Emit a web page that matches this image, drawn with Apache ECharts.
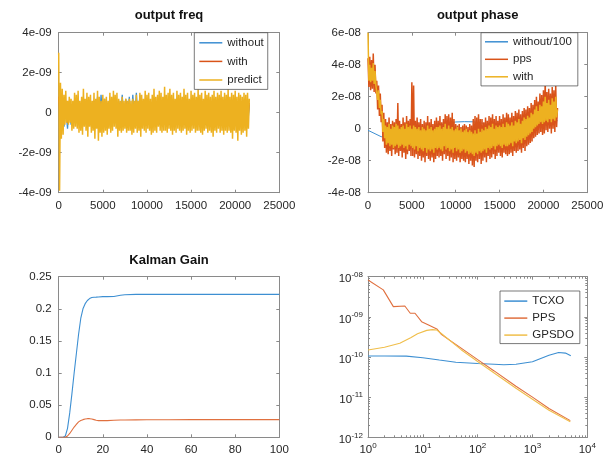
<!DOCTYPE html>
<html>
<head>
<meta charset="utf-8">
<script src="https://cdn.jsdelivr.net/npm/echarts@6/dist/echarts.min.js"></script>
<style>html,body{margin:0;padding:0;background:#fff}#c{width:613px;height:466px}</style>
</head>
<body>
<div id="c"></div>
<script>
// ---------- DATA ----------
// Panel 1: output freq (values in units of 1e-10), sample step in x
const FREQ_UNIT = 1e-10;
const FREQ_STEP_PREDICT = 100;
const FREQ_STEP_OTHER = 200;
const freqPredict = [
30,-39,15,-13,12,-11,9,-6,11,-5, 6,-6,8,-5,7,-9,6,-8,10,-7,
9,-8,11,-10,6,-9,8,-11,12,-7, 7,-9,10,-12,8,-7,9,-10,6,-9,
10,-13,7,-8,11,-14,8,-10,6,-12, 9,-10,7,-9,8,-11,6,-8,10,-10,
8,-9,11,-7,9,-8,10,-12,7,-9, 6,-10,8,-9,6,-8,7,-10,6,-9,
7,-9,6,-11,7,-10,6,-8,9,-10, 6,-9,10,-12,9,-8,7,-9,11,-10,
9,-8,10,-9,7,-11,9,-10,12,-9, 8,-10,9,-7,11,-9,10,-10,8,-9,
13,-9,9,-10,10,-8,12,-9,9,-11, 10,-9,7,-10,11,-8,9,-9,10,-10,
8,-9,12,-8,9,-11,10,-9,7,-10, 11,-9,9,-8,10,-10,8,-9,12,-9,
9,-10,10,-11,7,-9,11,-8,9,-10, 10,-9,8,-10,9,-12,11,-9,8,-10,
10,-8,9,-10,11,-9,8,-11,10,-9, 9,-10,12,-9,8,-10,10,-13,9,-9,
11,-10,8,-14,10,-9,9,-11,8,-10, 10,-9,9,-12,10,-8,7];
const freqWithout = [
5,-6,4,-7,3,-8,5,-6,4,-5, 5,-6,4,-5,6,-5,4,-6,5,-5,
6,-5,8,-6,9,-5,7,-6,5,-5, 6,-5,5,-6,6,-5,9,-6,7,-5,
8,-5,9,-6,10,-5,9,-6,6,-5, 5,-6,4,-5,6,-5,5,-6,4,-5,
6,-5,5,-6,4,-5,6,-6,5,-5, 4,-6,5,-5,6,-6,4,-5,5,-6,
6,-5,4,-6,5,-5,6,-6,4,-5, 5,-6,4,-5,6,-5,5,-7,4,-6,
5,-6,6,-5,4,-6,5,-7,4];
const freqWith = [
8,-8,6,-5,5,-5,6,-4,5,-5, 5,-5,4,-6,6,-5,5,-4,4,-6,
6,-5,5,-6,4,-5,6,-4,5,-6, 4,-5,6,-5,5,-6,4,-5,6,-4,
5,-6,4,-5,6,-5,5,-4,6,-6, 4,-5,5,-6,6,-4,5,-5,4,-6,
6,-5,4,-6,5,-4,6,-5,5,-6, 4,-6,5,-4,6,-5,4,-6,5,-5,
6,-4,5,-6,4,-5,6,-5,5,-6, 4,-5,6,-6,5,-4,6,-5,4,-6,
5,-5,6,-4,5,-6,4,-5,5];

// Panel 2: output phase (values in units of 1e-9)
const PHASE_UNIT = 1e-9;
const PHASE_STEP = 100;
const phasePps = [
44,26,45,24,43,25,47,23,40,22, 30,12,27,8,22,4,15,-8,10,-12,
6,-15,4,-16,7,-14,3,-17,5,-13, 4,-16,6,-15,16,-17,5,-14,3,-18,
7,-15,4,-19,8,-16,5,-14,6,-17, 29,-17,27,-18,5,-16,7,-19,4,-17,
6,-20,3,-18,5,-21,4,-17,8,-19, 4,-20,6,-18,3,-21,5,-19,7,-17,
5,-18,8,-17,4,-20,6,-16,9,-19, 8,-17,9,-20,7,-18,10,-21,6,-19,
3,-20,2,-18,3,-21,1,-19,2,-20, 3,-21,2,-19,1,-22,3,-20,2,-23,
6,-24,8,-20,7,-21,9,-19,6,-22, 6,-20,4,-18,7,-21,5,-17,8,-19,
7,-18,9,-16,6,-19,8,-17,5,-15, 8,-17,6,-18,9,-15,7,-16,10,-17,
9,-16,7,-15,10,-17,8,-14,11,-15, 10,-14,12,-13,9,-15,11,-12,13,-14,
12,-11,14,-10,13,-9,16,-8,15,-6, 18,-5,20,-4,17,-3,22,-2,21,-4,
24,-3,30,-1,23,-2,25,0,22,-3, 26,0,24,-2,27,1,13];
const phaseWith = [
60,30,40,29,38,30,41,28,36,27, 26,18,24,13,18,9,11,-2,6,-6,
2,-10,1,-9,3,-11,0,-10,2,-12, 1,-11,3,-10,2,-12,0,-11,1,-10,
2,-12,0,-11,3,-13,1,-10,2,-11, 0,-12,2,-13,1,-11,0,-14,1,-12,
-1,-13,1,-14,0,-12,-1,-15,2,-13, 0,-14,1,-13,-1,-15,0,-12,1,-13,
1,-12,2,-13,0,-14,1,-11,3,-13, 0,-12,2,-14,0,-13,1,-15,-1,-12,
0,-14,1,-13,-1,-15,0,-14,-2,-13, -1,-15,0,-14,-2,-16,-1,-15,-2,-16,
-3,-17,-1,-15,-3,-16,0,-14,-2,-15, 0,-14,-1,-13,1,-15,0,-12,2,-13,
1,-12,3,-11,0,-13,2,-11,1,-10, 2,-11,1,-12,3,-10,1,-11,4,-11,
3,-10,2,-9,4,-11,2,-8,5,-9, 4,-8,6,-7,3,-9,5,-6,7,-7,
6,-5,8,-4,7,-3,10,-2,9,0, 12,1,14,2,11,3,15,4,14,3,
17,4,20,5,16,4,18,6,15,4, 19,6,17,5,20,7,12];
const phaseWithoutX = [0,1500,3000,5000,7000,9000,10000,11000,12000,13000,15000,17000,19000,21600];
const phaseWithoutY = [-1,-5,-5,-3,0,3.5,4.2,4.4,4.3,3.5,0,-3,0,5];

// Panel 3: Kalman gain
const kalX = [0,1,2,3,4,5,6,7,8,9,10,11,12,13,14,15,16,17,18,20,22,25,28,30,35,40,50,60,70,80,90,100];
const kalBlue = [0,0,0,0.002,0.014,0.038,0.068,0.1,0.13,0.16,0.185,0.2,0.208,0.213,0.216,0.2175,0.218,0.2182,0.2185,0.219,0.219,0.2192,0.221,0.222,0.2225,0.2225,0.2225,0.2225,0.2225,0.2225,0.2225,0.2225];
const kalRed = [0,0,0,0,0.002,0.006,0.011,0.016,0.02,0.024,0.026,0.0275,0.0285,0.029,0.029,0.0285,0.0275,0.0265,0.026,0.026,0.026,0.0265,0.027,0.027,0.0272,0.0273,0.0274,0.0275,0.0275,0.0275,0.0275,0.0275];

// Panel 4: Allan deviation
const tcxoX = [1,2,5,10,20,40,100,200,300,500,1000,2000,3000,4000,5000];
const tcxoY = [1.06e-10,1.06e-10,1.05e-10,9.6e-11,8.4e-11,7.4e-11,6.9e-11,6.6e-11,6.4e-11,6.6e-11,7.6e-11,1.1e-10,1.29e-10,1.25e-10,1.08e-10];
const ppsX = [1,1.9,2.9,4.7,5.9,7.2,9.5,13,18,22,50,100,200,500,1000,2000,4900];
const ppsY = [8.3e-9,4.7e-9,1.8e-9,1.86e-9,1.23e-9,1.23e-9,7.6e-10,6.2e-10,5e-10,3.6e-10,1.66e-10,8.6e-11,4.5e-11,1.87e-11,1e-11,5.2e-12,2.6e-12];
const gpsdoX = [1,2,3.8,6,8,11.8,15,18,22,50,100,200,500,1000,2000,4900];
const gpsdoY = [1.5e-10,1.75e-10,2.2e-10,3e-10,3.8e-10,4.6e-10,4.8e-10,4.7e-10,3.8e-10,1.52e-10,7.7e-11,4e-11,1.66e-11,8.9e-12,4.7e-12,2.45e-12];

// ---------- CHART ----------
const BLUE = '#0072BD', ORANGE = '#D95319', YELLOW = '#EDB120';
const BLUE_T = '#3d8fd2', ORANGE_T = '#e0703f', YELLOW_T = '#f0be4a';
const FONT = "'Liberation Sans', Arial, Helvetica, sans-serif";
const LBL = '#262626', AX = '#8a8a8a';

function stepped(arr, step, unit){ return arr.map((v,i)=>[i*step, v*unit]); }
function paired(xs, ys, unit){ return xs.map((x,i)=>[x, ys[i]*(unit||1)]); }
function expFmt(v){
  if (Math.abs(v) < 1e-20) return '0';
  const parts = v.toExponential(0).split('e');
  const n = parseInt(parts[1],10);
  return parts[0] + 'e' + (n<0?'-':'+') + String(Math.abs(n)).padStart(2,'0');
}
function plainFmt(v){ return String(v); }
function logFmtX(v){ return '{b|10}{s|' + Math.round(Math.log10(v)) + '}'; }
function logFmtY(v){ const e = Math.round(Math.log10(v)); return '{b|10}{s|' + (e<0?'-':'') + String(Math.abs(e)).padStart(2,'0') + '}'; }

const grids = [
  {left:58.7, top:32.7, width:220.6, height:160},
  {left:368, top:32.7, width:219.3, height:160},
  {left:58.7, top:276.7, width:220.6, height:160.6},
  {left:368, top:276.7, width:219.3, height:160.6}
];
const axRanges = [
  {x:{type:'value',min:0,max:25000,interval:5000,fmt:plainFmt}, y:{type:'value',min:-4e-9,max:4e-9,interval:2e-9,fmt:expFmt}},
  {x:{type:'value',min:0,max:25000,interval:5000,fmt:plainFmt}, y:{type:'value',min:-4e-8,max:6e-8,interval:2e-8,fmt:expFmt}},
  {x:{type:'value',min:0,max:100,interval:20,fmt:plainFmt}, y:{type:'value',min:0,max:0.25,interval:0.05}},
  {x:{type:'log',min:1,max:1e4,logBase:10,fmt:logFmtX}, y:{type:'log',min:1e-12,max:1e-8,logBase:10,fmt:logFmtY}}
];
const rich = { b:{fontSize:11.5, fontFamily:FONT, color:LBL, padding:[5,0,0,0], lineHeight:12}, s:{fontSize:8, fontFamily:FONT, color:LBL, lineHeight:8, verticalAlign:'top'} };

const xAxes = [], yAxes = [];
function baseAxis(r, gi, pos, showLabel, isX){
  const a = {
    type:r.type, gridIndex:gi, position:pos, min:r.min, max:r.max,
    axisLine:{show:true, onZero:false, lineStyle:{color:AX, width:1}},
    axisTick:{show:true, inside:true, length:3, lineStyle:{color:AX}},
    splitLine:{show:false},
    axisLabel:{show:showLabel, color:LBL, fontSize:11.5, fontFamily:FONT, margin:7, hideOverlap:false, showMinLabel:true, showMaxLabel:true}
  };
  if (r.interval) a.interval = r.interval;
  if (r.logBase) { a.logBase = r.logBase; a.minorTick = {show:true, splitNumber:9, length:2, lineStyle:{color:AX}}; }
  if (r.fmt) a.axisLabel.formatter = r.fmt;
  if (r.type === 'log') { a.axisLabel.rich = rich; a.axisLabel.margin = isX ? 4 : 5; }
  return a;
}
axRanges.forEach((r,gi)=>{ xAxes.push(baseAxis(r.x, gi, 'bottom', true, true)); yAxes.push(baseAxis(r.y, gi, 'left', true, false)); });
axRanges.forEach((r,gi)=>{ xAxes.push(baseAxis(r.x, gi, 'top', false, true)); yAxes.push(baseAxis(r.y, gi, 'right', false, false)); });

function line(name, data, color, gi, w){
  return { name, type:'line', xAxisIndex:gi, yAxisIndex:gi, data, showSymbol:false, symbol:'none',
           lineStyle:{color, width:w||1}, itemStyle:{color}, emphasis:{disabled:true}, animation:false, clip:true };
}
const series = [
  line('without', stepped(freqWithout, FREQ_STEP_OTHER, FREQ_UNIT), BLUE_T, 0, 1.3),
  line('with', stepped(freqWith, FREQ_STEP_OTHER, FREQ_UNIT), ORANGE, 0, 1.3),
  line('predict', stepped(freqPredict, FREQ_STEP_PREDICT, FREQ_UNIT), YELLOW, 0, 1.5),
  line('without/100', paired(phaseWithoutX, phaseWithoutY, PHASE_UNIT), BLUE_T, 1, 1),
  line('pps', stepped(phasePps, PHASE_STEP, PHASE_UNIT), ORANGE, 1, 1.5),
  line('with ', stepped(phaseWith, PHASE_STEP, PHASE_UNIT), YELLOW, 1, 1.5),
  line('kalman1', paired(kalX, kalBlue), BLUE_T, 2, 1.1),
  line('kalman2', paired(kalX, kalRed), ORANGE_T, 2, 1.1),
  line('TCXO', paired(tcxoX, tcxoY), BLUE_T, 3, 1.1),
  line('PPS', paired(ppsX, ppsY), ORANGE_T, 3, 1.1),
  line('GPSDO', paired(gpsdoX, gpsdoY), YELLOW_T, 3, 1.1)
];

function legend(names, left, top, pad, gap){
  return { orient:'vertical', left, top, padding:pad, itemGap:gap, itemWidth:23, itemHeight:1.5, icon:'rect',
    backgroundColor:'#fff', borderColor:'#404040', borderWidth:0.7, borderRadius:0,
    textStyle:{fontSize:11.5, fontFamily:FONT, color:LBL}, selectedMode:false, data:names,
    formatter: n => n.trim() };
}
const titleStyle = {fontSize:13, fontWeight:'bold', fontFamily:FONT, color:'#111'};
const option = {
  animation:false,
  backgroundColor:'#fff',
  title:[
    {text:'output freq', left:169, top:8.5, textAlign:'center', padding:0, textStyle:titleStyle},
    {text:'output phase', left:477.7, top:8.5, textAlign:'center', padding:0, textStyle:titleStyle},
    {text:'Kalman Gain', left:169, top:253.5, textAlign:'center', padding:0, textStyle:titleStyle}
  ],
  legend:[
    legend(['without','with','predict'], 194.3, 32.7, [4.1,4,3.4,5], 6.6),
    legend(['without/100','pps','with '], 481, 32.7, [3.1,6,3.1,4], 5.5),
    legend(['TCXO','PPS','GPSDO'], 500, 291, [4.1,6,2.5,4.3], 5)
  ],
  grid:grids.map(g=>Object.assign({containLabel:false}, g)),
  xAxis:xAxes, yAxis:yAxes, series
};
const chart = echarts.init(document.getElementById('c'), null, {renderer:'canvas', width:613, height:466});
chart.setOption(option);
</script>
</body>
</html>
